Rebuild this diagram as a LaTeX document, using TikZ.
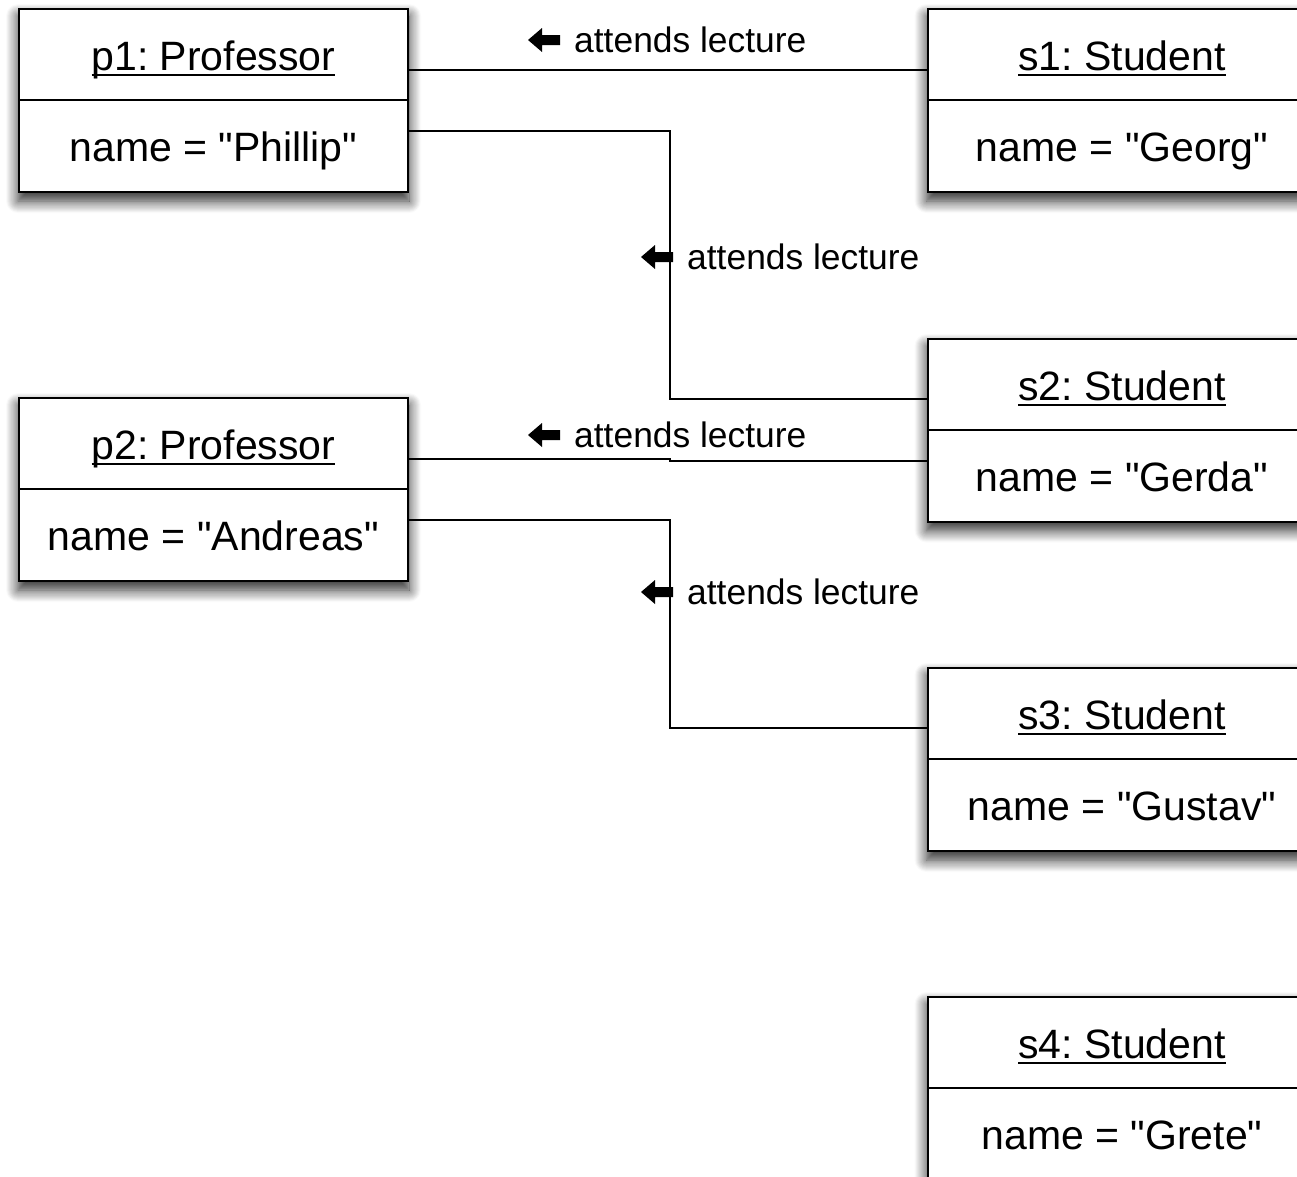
\documentclass[tikz,border=0pt]{standalone}
\usepackage{fontspec}
\setmainfont{Liberation Sans}[Ligatures=TeXOff]
\usetikzlibrary{shadows.blur,backgrounds}
\frenchspacing

% underlined object name, rule passing just under the baseline
\newcommand\objname[1]{\setbox0\hbox{#1}\rlap{\rule[-6pt]{\wd0}{2pt}}\box0}

\tikzset{
  objhead/.style={draw=black, line width=2pt, fill=white,
    minimum width=389pt, minimum height=91pt, inner sep=0pt,
    text height=36pt, text depth=5pt,
    font=\fontsize{41}{49}\selectfont},
  objattr/.style={objhead, minimum height=92pt},
  objshadow/.style={fill=white,
    blur shadow={shadow xshift=0pt, shadow yshift=-8pt,
                 shadow blur radius=12pt, shadow blur steps=12,
                 shadow opacity=85}},
  link/.style={draw=black, line width=2pt},
  assoc/.style={font=\fontsize{35.4}{42}\selectfont, inner sep=0pt, anchor=west},
  dirarrow/.pic={\fill (0,0) -- (14,-12) -- (14,-5) -- (32,-5) -- (32,5) -- (14,5) -- (14,12) -- cycle;}
}

\begin{document}
\begin{tikzpicture}[x=1pt,y=-1pt]
\useasboundingbox (0,0) rectangle (1297,1176);
\clip (0,0) rectangle (1297,1176);

% professors
\node[objhead] (p1)  at (213.5,54.5) {\objname{p1: Professor}};
\node[objattr] (p1a) at (213.5,146)  {name = "Phillip"};
\node[objhead] (p2)  at (213.5,443.5) {\objname{p2: Professor}};
\node[objattr] (p2a) at (213.5,535)  {name = "Andreas"};

% students
\node[objhead] (s1)  at (1122,54.5)  {\objname{s1: Student}};
\node[objattr] (s1a) at (1122,146)   {name = "Georg"};
\node[objhead] (s2)  at (1122,384.5) {\objname{s2: Student}};
\node[objattr] (s2a) at (1122,475.5) {name = "Gerda"};
\node[objhead] (s3)  at (1122,713.5) {\objname{s3: Student}};
\node[objattr] (s3a) at (1122,805)   {name = "Gustav"};
\node[objhead] (s4)  at (1122,1042.5) {\objname{s4: Student}};
\node[objattr] (s4a) at (1122,1134)  {name = "Grete"};

% one soft shadow under each object box
\begin{scope}[on background layer]
  \foreach \o in {p1,p2,s1,s2,s3,s4}
    \path[objshadow] (\o.north west) rectangle (\o a.south east);
\end{scope}

% links
\draw[link] ([yshift=-15.5pt]p1.east) -- ([yshift=-15.5pt]s1.west);
\draw[link] ([yshift=15pt]p1a.east) -- ++(261,0) |- ([yshift=-14.5pt]s2.west);
\draw[link] ([yshift=-15.5pt]p2.east) -- ++(261,0) -- ++(0,2) -- ([yshift=14.5pt]s2a.west);
\draw[link] ([yshift=15pt]p2a.east) -- ++(261,0) |- ([yshift=-14.5pt]s3.west);

% link labels with reading direction
\node[assoc] (l1) at (574,40)  {attends lecture};
\node[assoc] (l2) at (687,257) {attends lecture};
\node[assoc] (l3) at (574,435) {attends lecture};
\node[assoc] (l4) at (687,592) {attends lecture};
\foreach \l in {l1,l2,l3,l4}
  \path (\l.west) ++(-46,0) pic {dirarrow};
\end{tikzpicture}
\end{document}
